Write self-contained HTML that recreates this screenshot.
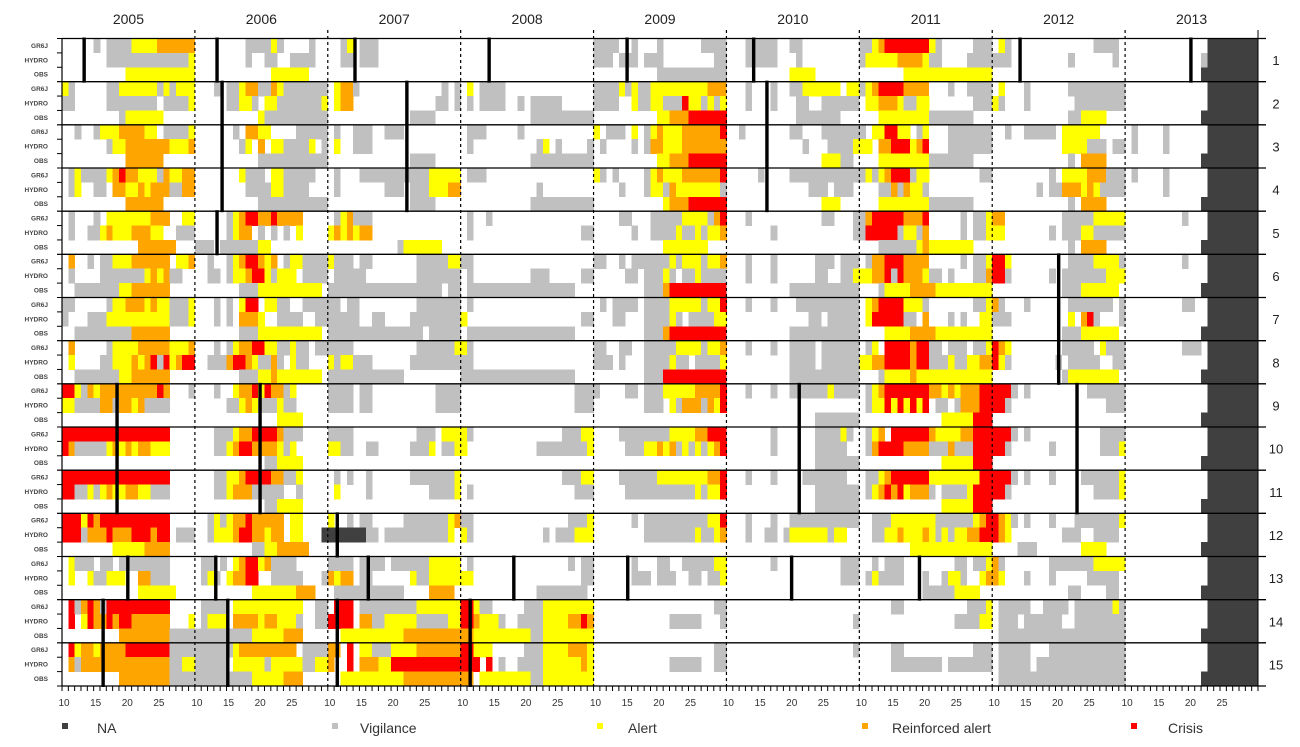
<!DOCTYPE html>
<html><head><meta charset="utf-8"><style>
html,body{margin:0;padding:0;background:#fff;}
svg{display:block;font-family:"Liberation Sans",Arial,sans-serif;}
</style></head><body>
<svg id="chart" width="1300" height="747" viewBox="0 0 1300 747" xmlns="http://www.w3.org/2000/svg">
<g id="cells" shape-rendering="crispEdges"></g>
<g id="grid"></g>
<g id="marks"></g>
<g id="labels"></g>
<g id="legend"></g>
</svg>
<script>
const years = ["2005","2006","2007","2008","2009","2010","2011","2012","2013"];
const weekTicks = [10,15,20,25];
const firstWeek = 10;
const weeksPerYear = 21;
const subrows = ["GR6J","HYDRO","OBS"];
const groups = ["1","2","3","4","5","6","7","8","9","10","11","12","13","14","15"];
const levelNames = ["NA","Vigilance","Alert","Reinforced alert","Crisis"];
const levelCodes = ["n","v","a","o","r"];
const levelColors = ["#404040","#c0c0c0","#ffff00","#ffa500","#ff0000"];
// cells[group][subrow][year] : week-index ranges with level code
const cells = [
[["5v 7-10v 11-14a 15-20o","8-11v 12a 13v 18v","2v 3a 5-7v","","0-3v 6v 10v 17-20v","3-7v 10-11v","0-1v 2a 3o 4-10r 11a 12v 18-20v","1a 2v 16-19v","13-20n"],
 ["7-19v 20a","8v 11-12v 15-18v","2-3v 5-7v","","0-2v 4-6v 8-10v 19-20v","3-7v 11v","0v 1-5a 6-9o 10a 11-12v 17-20v","0-2v 12v 19v","12v 13-20n"],
 ["10-20a","12-17a","","","10-20v","10-13a","7-20a","","12-20n"]],
[["0a 1v 7-8v 9-14a 15v 16a 17v 18-20a","3v 5-6v 7a 8-9o 10-11v 12o 13a 14-20v","1a 2-3o 4v 18v 20v","1a 3-6v","0-3v 4a 5v 6a 7-8v 9-17a 18-20o","3v 7v 10-11v 12-13a 14-17a 19-20a","0v 1a 2o 3-6r 7-10o 14v 17-20v","1a 5v 12-20v","13-20n"],
 ["0-1v 7-14v 16-19v 20a","5-6v 7-8a 9v 11-12a 13-19v 20a","1a 2-3o 17-18v 20v","1v 3-6v 9v 11-15v","0-3v 6a 7-8v 9-10a 11-13v 14r 15-16a 17v 18a 19v 20a","3v 7v 11-12v 15-20v","1-2a 3-5o 6a 7-8v 9-10a 18-20v","0a 1v 5v 13-20v","13-20n"],
 ["9v 10-15a","10a 11-20v","13-16v","11-20v","10-11a 12-14o 15-20r","11-17v","3-10a 11-17v","12-13v 14-17a","12-20n"]],
[["2v 5v 6-8a 9-12o 13-14a 16-19v 20a","6v 8-9o 10-11a 16-20v","1v 4-6v 9-11v","1-3v 9v","0a 2-4v 6a 8v 9a 10o 11-13a 14-19o 20r","2v 10-11v 15-20v","0v 2-3a 4-5r 6-7a 9v 10a 14-20v","2v 5-9v 11-16a","1v 6v 13-20n"],
 ["7v 8-9a 10-16o 17-19a 20o","7v 8a 10o 12-13a 14-17v 18a 20v","1a 4-6v","1v 12v 13a 15v 20v","1v 6v 8v 9-10o 11-13a 14-20o","12v 16-19v 20a","0-1a 3-4o 5-7r 8a 9o 10r 14-20v","11-14a 15-17v 19-20v","1v 6v 13-20n"],
 ["10-15o","10-20v","13-16v","11-20v","10-11a 12-14o 15-20r","15-17a 18-19v","3-10a 11-17v","12v 14-17o","12-20n"]],
[["1v 2a 3-6v 7a 8o 9r 10-11o 12-14a 15v 16o 17-18a 19-20o","7a 8-10v 12-13a 14-18v","1v 5-15v 16-20a","1-3v","0a 1v 3v 8v 9a 10o 11-13a 14-19o 20r","5v 10-20v","0v 1a 2v 3a 4o 5-7r 8v 9-10a 19-20v","9v 11-14a 15-17o 18-20v","1v 6v 13-20n"],
 ["1v 2a 5-6v 8-9o 10-11a 12o 13a 14-16o 17-18v 19-20o","8-11v 12-13a 14-17v","1v 9-11v 13-15v 16-18a 19-20o","12v","4v 8v 9-10a 11v 12o 13-19a 20v","13-15v 17-19v","3-4v 5o 6v 7o 8-9a 10v","7v 9-10v 11-13o 14a 15o 16a 17-20v","6v 13-20n"],
 ["10-15o","10-20v","13-16v","11-20v","11a 12-14o 15-20r","15-17a","3-10a 11-17v","12v 14-17o","12-20n"]],
[["1v 5v 7-13a 14-16o 19-20a","5v 6a 7o 8-9r 10-11o 12r 13-16o","1v 2a 3o 4-6v","1v 4v","4-5v 9-13v 14-17a 18v 19o 20r","3v 15-16v 20v","0v 1o 2-6r 7-9o 10r 16v 18-19v 20a","0-1o 11-15v 16-20a","9v 13-20n"],
 ["1v 4-5v 6a 7o 8-10a 11-13o 14-15a 18-20v","5v 6a 7-8o 10v 12v 14v 16a","0a 1o 2a 3o 4a 5-6o","1v 19-20v","6v 9-12v 13a 14-15v 16a 17v 18-19a 20o","7v 20v","0v 1-5r 6v 7-8a 9v 10o 16v 18-19v 20a","0-1a 9v 11-13v 14-15a 16-20v","13-20n"],
 ["12-17o","0-2v 4-9v 10-11a","11v 12-17a","","11-17a","","3-8v 9a 10o 11-17a","12v 14-17o","12-20n"]],
[["1o 4v 6-7v 8-10a 11-16o 18-19a 20o","2v 5v 6a 7o 8-9r 10o 11a 12o 14v 15-16a 17-20v","0a 1-3v 5-6v 14-18v 19-20a","0-1v","0-1v 4v 6-11v 12a 13v 14-16a 17v 18-19a 20o","3v 7v 14-16v 18-20v","1v 2-3o 4-6r 7-10o 16v 18-19v 20a","0-1r 2a 12-15v 16-19a 20v","9v 13-20n"],
 ["1v 6-12v 13a 14o 15a 16o 17-18v","2-3v 5v 6-7a 8o 9-10r 11a 12v 13-15a 17-20v","1-5v 14-20v","1v 11-13v 19-20v","5-6v 8-10v 11a 12v 14-15v 16a 17-20v","3v 7v 14-15v 18-19v 20a","0-1a 2-3o 4r 5v 6r 7-9o 10a 11-12v 14v 18-19v 20o","0-1r 2v 9v 11-17v 18-20a","13-20n"],
 ["2-8v 9-10a 11-16o","7-9v 10-19a","0-17v 19-20v","1-17v","8-10v 11o 12-20r","10-20v","3v 4-7a 8-11o 12-20a","11-13v 14-19a","12-20n"]],
[["0-1v 7v 8-9a 10-12o 13a 14o 15-16a 17-19v 20a","3v 5v 7a 8-9r 11-12a 13-14v 17-20v","0-1v 3-4v 14-20v","1v","1v 3-6v 8-11v 12-16a 17v 18-19a 20r","3v 7v 11-20v","1a 2o 3-6r 7-9a 10v 18-19v 20a","0o 1v 5v 12-18v 20v","9-10v 13-20n"],
 ["0v 4-6v 7-16a 17-19v 20a","3v 5v 7-9o 10a 13-14v 15-16v 19-20v","0-4v 7-8v 13-20v","0a 19-20v","3-4v 8-11v 12a 13v 15-18v 19-20a","13-14v 16-20v","1a 2-6r 7-8v 10o 14v 16v 19-20a","0-2v 12a 14o 15r 16v 20v","13-20n"],
 ["2-10v 11-16o","7-9v 10-19a","0-14v 16-20v","1-17v","8-10v 11o 12-20r","10-20v","4-7a 8-11o 12-20a","11-13v 14-19a","12-20n"]],
[["1o 7v 8-11a 12-16o 17-19a 20o","3v 5v 6a 7-8o 9-10r 11-12a 13-14v 15a 16-17v 19-20v","0-3v 14-19v 20a","0a 1v","0-1v 4-5v 8-12v 13-16a 17v 18-19a 20o","3v 7v 10-13v 15-20v","1v 2a 4-7r 8o 9-10r 11-12v 14-16v 18-19v 20a","0r 1o 2a 11-15v 17a 18-20v","9-11v 13-20n"],
 ["1a 6-7v 8-10a 11o 12a 13o 14r 15v 16r 17a 18o 19-20r","2-4v 5o 6-7r 8o 9a 10-11v 12o 13v 15a 16-17v","0a 1v 2-3a 4-6v 13-20v","0-1v","0-2v 4v 8-11v 12a 13-14v 16-19v 20a","10-13v 15-20v","0-1a 2-3o 4-7r 8o 9-10r 11-13v 14a 15-16v 17-18a 19-20o","0r 1a 2v 10v 12-16v 19-20v","13-20n"],
 ["2-8v 9-10a 11-16o","7-9v 10-11a 12o 13-19a","0-11v","0-17v","8-10v 11-20r","10-20v","3v 4-7a 8o 9-20a","11v 12-19a","12-20n"]],
[["0-1r 2a 3v 4o 5a 6-14o 15r 16o 20v","3v 6a 7-8o 9r 10a 11r 12-13o 14v 15a","0-3v 5-6v 17-20v","18-20v","0v 5-6v 8-10v 11-15a 16-19o 20r","3v 7v 10-15v 16a 17-20v","1v 2a 3o 4-10r 11-12o 13a 14o 15a 16-18o 19-20r","0-2r 3v 5v 15-20v","13-20n"],
 ["0-1a 2-5v 6-7o 8v 9-10o 11a 12o 13-16v","5-6v 7a 8o 9a 10-12v 13a 14-15v","0-3v 5-6v 17-20v","18-20v","8-10v 12a 13v 14-16o 17v 18o 19a 20r","","1v 2-3a 4r 5a 6r 7a 8r 9a 10r 12-13v 15v 16-18o 19-20r","0-1r 2v 18-20v","13-20n"],
 ["","13-16a","","","","14-20v","13-17a 18-20r","","12-20n"]],
[["0-16r","3-5v 6a 7-8o 9-12r 13o 14-16v","0-3v 14-16v 18-20a","0a 1v 16-18v 19-20a","4-11v 12-15a 16-17o 18-20r","7v 14-17v 18a 19v","1v 2a 3o 5-10r 11o 12-15a 16-17o 18-20r","0-2r 3v 5v 17-20v","13-20n"],
 ["0r 1o 2-6v 7a 8o 9a 10o 11a 12-13o 14-16a","3-4v 5a 6o 7-8r 9-12o 13a 14v 15a","0-1a 2-3v 6-7v 13-15v 16a 18-19v 20a","0a 12-19v 20a","5-7v 8-9a 10o 11a 12o 13v 14a 15v 16a 17v 18a 19o 20r","7v 14-18v","1v 2o 3-6r 7-10o 11-13v 14o 15-17v 18-20r","0-1r 2v 9v 17-19v 20a","13-20n"],
 ["","11-12v 13-16a","","","","14-20v","13-17a 18-20r","","12-20n"]],
[["0-16r","3-4v 5-6a 7o 8-11r 12-13o 14-15v 16a","1v 3v 6v 13-19v 20a","16-18v 19-20a","4-9v 10-17a 18-19o 20r","3v 7v 12-18v","1-2v 3a 4o 5-10r 11-18a 19-20r","0-2r 3v 5v 9v 14-19v 20a","13-20n"],
 ["0-1r 2-3v 4a 5v 6a 7o 8-9a 10-11o 12-13a 14-16v","3-4v 5a 6-8o 9-13v 16v","1a 6v 16-19v 20a","1v 18-20v","5-15v 16a 17v 18-19a 20r","14-20v","1v 2a 3o 4r 5o 6r 7a 8-10o 11v 13-16v 17a 18-20r","0-1r 2v 16-19v 20a","13-20n"],
 ["","11-12v 13-16a","","","","14-20v","13-17a 18-20r","","12-20n"]],
[["0-2r 3a 4r 5o 6-16r","2v 3a 4v 5a 6-7o 8r 9-13o 15-16a","0a 3v 5-6v 12-18v 19a 20o","0-1v 17-19v 20a","6v 8-17v 18-19a 20r","3v 7v 10-20v","2-4v 5-11a 12-17v 18a 19o 20r","0r 1o 2a 3v 5v 9v 13-19v 20a","13-20n"],
 ["0-2r 3v 4-6o 7r 8-10o 11-13r 14o 15-16r 18-20v","2v 3-5a 6o 7-8r 9-10o 11a 12-13o 15-16a 20n","0-5n 6-7v 9-18v 19a","0a 1v 13v 15-17v 18-20a","8-15v 16a 17-18v 19a 20o","3v 6-7v 9v 10-15a 16v 17-18a","2-3v 4-5a 6o 7-9a 10o 11a 12v 13a 14v 15-16a 17-18o 19-20r","0r 1o 2a 11-13v 16-19v","13-20n"],
 ["8-12a 13-16o","9-10v 11-12a 13-17o","","","","","8-20a","4-6v 14-17a","12-20n"]],
[["1a 2-4v 6-7v 9-16v","1-2v 4v 6a 7o 8-9r 10a 11o 12-15v","0-3v 5-8v 10-15v 16-20a","1v 17v 19-20v","6v 10-11v 14-18v 19-20a","7v 18-20v","2v 4-6v 15-16v 18-19v 20a","0o 1v 9-15v 16-20a","13-20n"],
 ["1a 4a 5-6v 7-9a 12-13o 14-16v","1v 2a 3v 5a 6-7o 8-9r 12-16v 20v","0o 1a 2-3o 5-6v 13a 14-15v 16-20a","0-1a 19-20v","6-8v 10-12v 15-16v 18-19v 20a","18-20v","1v 2a 3-6v 10v 13v 14-15a 16v 19a 20o","0o 1a 5v 9v 15-19v","13-20n"],
 ["12-17a","9-15a 16-18o","1-11v 16-19o","12-19v","","","10-14v 15-18a","12-13v 18-19v","12-20n"]],
[["1r 2v 3o 4r 5o 6v 7-16r","1-4v 6-16a 19-20v","1-3r 5-13v 14-20a","0-1r 2a 3-4v 10-12v 13-20a","19-20v","","5-6v 17-19v 20a","1-5v 8-11v 13-18v 19a 20v","13-20n"],
 ["1r 3a 4r 5-6o 7r 8o 9-10r 11-16o 20a","1v 2-4a 6-9o 10a 11-12o 13-15a 16v 19-20v","0-3r 5-6o 7-8v 9-13a 14-18v 19-20a","0-1r 2o 3-5a 6v 9-12v 13-16a 17-18o 19r 20o","12-16v 20v","20v","15-18v 19-20a","1-3v 5-10v 13-20v","13-20n"],
 ["9-16o 17-20v","0-8v 9-13a 14-16o","2-11a 12-20o","0-1o 2-10a 11-12v 13-20a","","","","1-20v","12-20n"]],
[["1r 2a 3-4o 5a 6-9o 10-16r 17-20v","0-5v 6a 7-15o 17-20v","0-1o 3r 5-6a 7-9v 10-13a 14-20o","0-1r 2-4a 10-12v 13-16a 17-19o 20a","19-20v","20v","5-6v 18-20v","1-5v 9-20v","13-20n"],
 ["1o 2v 3-16o 17-18v 19-20a","0-4v 6-10a 11v 12-16a 17-18v 19-20a","0o 3r 5-7o 8-9a 10-20r","0-2r 4r 6v 9-12v 13-18a 19o 20a","12-16v 19-20v","","5-12v 14-20v","1-5v 7-20v","13-20n"],
 ["9-16o 17-20v","0-8v 9-13a 14-16o","2-11a 12-20o","0-1o 3-10a 11-12v 13-20a","","","","1-20v","12-20n"]]
];
// black marker bars: year index, week, first group, last group (1-based)
const markerYear  = [0,1,2,3,4,5,7,8, 1,2,5, 1, 7, 0,1,5,7, 2, 0,1,2,3,4,5,6, 0,1,2,3];
const markerWeek  = [13.5,13.5,14.3,14.5,15.3,14.3,14.4,20.4, 14.3,22.5,16.4, 13.5, 20.5, 18.7,20.3,21.5,23.4, 11.5, 20.4,13.3,16.4,18.4,15.4,20.3,19.5, 16.5,15.2,11.5,11.5];
const markerG0    = [1,1,1,1,1,1,1,1, 2,2,2, 5, 6, 9,9,9,9, 12, 13,13,13,13,13,13,13, 14,14,14,14];
const markerG1    = [1,1,1,1,1,1,1,1, 4,4,4, 5, 8, 11,11,11,11, 12, 13,13,13,13,13,13,13, 15,15,15,15];

const NS = "http://www.w3.org/2000/svg";
const X0 = 62, X1 = 1258, Y0 = 38.5, Y1 = 686;
const nCols = years.length * weeksPerYear;
const colW = (X1 - X0) / nCols;
const groupH = (Y1 - Y0) / groups.length;
const subH = groupH / subrows.length;
function xYear(yi){ return X0 + yi * weeksPerYear * colW; }
function xWeek(yi, w){ return xYear(yi) + (w - firstWeek) * colW; }
function yGroup(g){ return Y0 + g * groupH; }
function ySub(g, s){ return yGroup(g) + s * subH; }
function mk(tag, attrs, parent){
  const el = document.createElementNS(NS, tag);
  for (const k in attrs) el.setAttribute(k, attrs[k]);
  parent.appendChild(el);
  return el;
}
function parseSpec(spec){
  const out = new Array(weeksPerYear).fill(-1);
  spec.trim().split(/\s+/).forEach(function(tok){
    if (!tok) return;
    const m = tok.match(/^(\d+)(?:-(\d+))?([a-z])$/);
    if (!m) return;
    const a = +m[1], b = m[2] ? +m[2] : a, lv = levelCodes.indexOf(m[3]);
    for (let i = a; i <= b && i < weeksPerYear; i++) out[i] = lv;
  });
  return out;
}
const gCells = document.getElementById("cells");
cells.forEach(function(grp, gi){
  grp.forEach(function(row, si){
    row.forEach(function(spec, yi){
      const arr = parseSpec(spec);
      let i = 0;
      while (i < weeksPerYear){
        const lv = arr[i];
        let j = i;
        while (j + 1 < weeksPerYear && arr[j + 1] === lv) j++;
        if (lv >= 0){
          const r = mk("rect", {x: xWeek(yi, firstWeek + i).toFixed(2), y: ySub(gi, si).toFixed(2),
            width: ((j - i + 1) * colW + 0.3).toFixed(2), height: (subH + 0.3).toFixed(2), fill: levelColors[lv]}, gCells);
          
          
        }
        i = j + 1;
      }
    });
  });
});
const gGrid = document.getElementById("grid");
for (let yi = 1; yi < years.length; yi++){
  const l = mk("line", {x1: xYear(yi), x2: xYear(yi), y1: 30, y2: Y1 + 4, stroke: "#000", "stroke-width": 1.2, "stroke-dasharray": "3,3"}, gGrid);
  
  
}
for (let g = 0; g <= groups.length; g++){
  const l = mk("line", {x1: X0, x2: X1 + 8, y1: yGroup(g), y2: yGroup(g), stroke: "#000", "stroke-width": 1.3}, gGrid);
  
  
}
const ax = mk("line", {x1: X0, x2: X0, y1: Y0, y2: Y1, stroke: "#000", "stroke-width": 1.2}, gGrid);


const axr = mk("line", {x1: X1, x2: X1, y1: 30, y2: Y1, stroke: "#000", "stroke-width": 1}, gGrid);


for (let g = 0; g < groups.length; g++){
  for (let s = 0; s <= subrows.length; s++){
    const t = mk("line", {x1: X0 - 5, x2: X0, y1: ySub(g, s), y2: ySub(g, s), stroke: "#000", "stroke-width": 1}, gGrid);
    
    
  }
}
for (let c = 0; c <= nCols; c++){
  const t = mk("line", {x1: X0 + c * colW, x2: X0 + c * colW, y1: Y1, y2: Y1 + 5, stroke: "#000", "stroke-width": 1}, gGrid);
  
  
}
const gMarks = document.getElementById("marks");
markerYear.forEach(function(yi, k){
  const x = xWeek(yi, markerWeek[k]);
  const r = mk("rect", {x: (x - 1.7).toFixed(2), y: yGroup(markerG0[k] - 1) - 1, width: 3.4, height: (markerG1[k] - markerG0[k] + 1) * groupH + 2, fill: "#000"}, gMarks);
  
  
});
const gLab = document.getElementById("labels");
years.forEach(function(y, yi){
  const t = mk("text", {x: xYear(yi) + weeksPerYear * colW / 2, y: 24, "text-anchor": "middle", "font-size": 14, fill: "#222"}, gLab);
  t.textContent = y;
  
  
  weekTicks.forEach(function(w){
    const tt = mk("text", {x: xWeek(yi, w) + 2, y: 706, "text-anchor": "middle", "font-size": 10, fill: "#333"}, gLab);
    tt.textContent = w;
    
    
  });
});
groups.forEach(function(gname, gi){
  subrows.forEach(function(s, si){
    const t = mk("text", {x: 48, y: ySub(gi, si) + subH / 2 + 2.2, "text-anchor": "end", "font-size": 6.5, "font-weight": "bold", fill: "#444"}, gLab);
    t.textContent = s;
    
    
  });
  const t = mk("text", {x: 1276, y: yGroup(gi) + groupH / 2 + 5, "text-anchor": "middle", "font-size": 13, fill: "#222"}, gLab);
  t.textContent = gname;
  
  
});
const gLeg = document.getElementById("legend");
const legendSquareX = [62, 332, 597, 862, 1131];
const legendTextX = [97, 360, 628, 892, 1168];
levelNames.forEach(function(n, i){
  const r = mk("rect", {x: legendSquareX[i], y: 723, width: 6, height: 6, fill: levelColors[i]}, gLeg);
  
  
  const t = mk("text", {x: legendTextX[i], y: 733, "font-size": 14, fill: "#333"}, gLeg);
  t.textContent = n;
  
  
});
</script>
</body></html>
